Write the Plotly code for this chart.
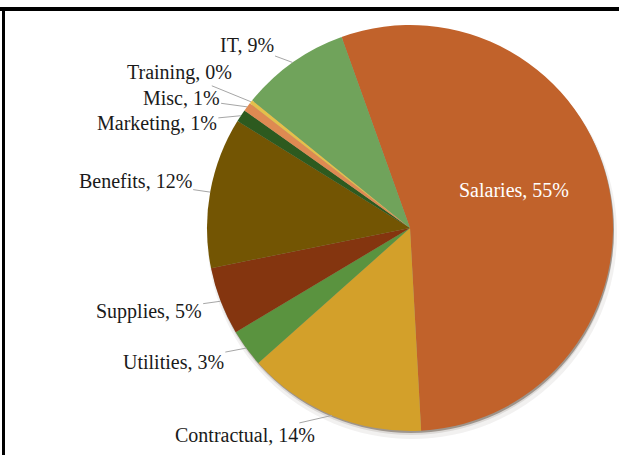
import math
import plotly.graph_objects as go

# budget share by category
categories = ["Salaries", "Contractual", "Utilities", "Supplies", "Benefits",
              "Marketing", "Misc", "Training", "IT"]
values = [54.6, 14.3, 3.0, 5.4, 12.0, 1.0, 0.7, 0.3, 8.7]

colors = ["#C1622B", "#D3A02A", "#5A933F", "#84350F", "#735503",
          "#2D5A1F", "#DE8A52", "#E4C04A", "#70A35B"]

W, H = 619, 455
CX, CY, R = 410, 228, 203          # pie centre / radius in pixels
ROTATION = 340.3                   # first slice start, clockwise from 12 o'clock

# label text offsets (px) from the slice edge, Excel-style manual placement
label_offsets = {
    "Salaries": (5, -18),
    "Contractual": (-87, 20),
    "Utilities": (-73, 14),
    "Supplies": (-72, 10),
    "Benefits": (-75, -11),
    "Marketing": (-84, 8),
    "Misc": (-66, -9),
    "Training": (-71, -29),
    "IT": (-46, -17),
}

FONT = "Liberation Serif, Times New Roman, serif"


def pie_domain(cx, cy, r):
    return dict(x=[max(0, (cx - r) / W), min(1, (cx + r) / W)],
                y=[max(0, 1 - (cy + r) / H), min(1, 1 - (cy - r) / H)])


fig = go.Figure()

# soft drop shadow + dark bevel rim behind the pie
for dx, dy, dr, alpha in [(2, 6, 2, 0.06), (1, 4, 0, 0.10), (1, 2, 0, 0.35)]:
    fig.add_trace(go.Pie(
        values=[sum(values)], sort=False,
        marker=dict(colors=[f"rgba(40,20,0,{alpha})"], line=dict(width=0)),
        textinfo="none", hoverinfo="skip", showlegend=False,
        domain=pie_domain(CX + dx, CY + dy, R + dr),
    ))

fig.add_trace(go.Pie(
    labels=categories,
    values=values,
    sort=False,
    direction="clockwise",
    rotation=ROTATION,
    marker=dict(colors=colors, line=dict(width=0)),
    textinfo="none",
    hoverinfo="label+percent",
    showlegend=False,
    domain=pie_domain(CX, CY, R),
))

total = sum(values)
annotations = []
start = ROTATION
for cat, v in zip(categories, values):
    span = v / total * 360
    mid = math.radians(start + span / 2)
    start += span
    text = f"{cat}, {round(v / total * 100)}%"
    dx, dy = label_offsets[cat]
    if cat == "Salaries":
        px = CX + 0.5 * R * math.sin(mid)
        py = CY - 0.5 * R * math.cos(mid)
        annotations.append(dict(
            x=px / W, y=1 - py / H, xref="paper", yref="paper",
            xanchor="center", yanchor="middle",
            text=text, showarrow=False, xshift=dx, yshift=-dy,
            font=dict(family=FONT, size=20, color="white"),
        ))
        continue
    px = CX + R * math.sin(mid)
    py = CY - R * math.cos(mid)
    annotations.append(dict(
        x=px / W, y=1 - py / H, xref="paper", yref="paper",
        text=text, showarrow=True, arrowhead=0, arrowwidth=1,
        arrowcolor="#A6A6A6", standoff=0, ax=dx, ay=dy,
        font=dict(family=FONT, size=20, color="#1A1A1A"),
    ))

fig.update_layout(
    width=W, height=H,
    margin=dict(l=0, r=0, t=0, b=0),
    paper_bgcolor="white",
    plot_bgcolor="white",
    annotations=annotations,
    shapes=[
        dict(type="line", xref="paper", yref="paper",
             x0=0, x1=1, y0=1 - 9 / H, y1=1 - 9 / H,
             line=dict(color="black", width=4)),
        dict(type="line", xref="paper", yref="paper",
             x0=3.5 / W, x1=3.5 / W, y0=0, y1=1 - 9 / H,
             line=dict(color="black", width=3)),
    ],
)

# drop the default 8px page margin so the figure sits flush with the window
fig.write_html("out.html", config={"displayModeBar": False},
               post_script="document.body.style.margin='0';")
